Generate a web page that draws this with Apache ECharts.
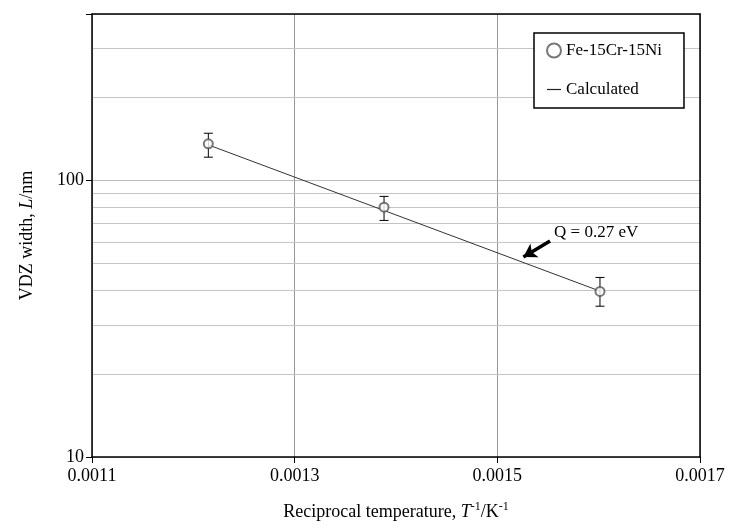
<!DOCTYPE html>
<html>
<head>
<meta charset="utf-8">
<script src="https://cdn.jsdelivr.net/npm/echarts@6/dist/echarts.min.js"></script>
<style>
  html, body { margin: 0; padding: 0; background: #fff; }
  #chart { width: 731px; height: 529px; }
</style>
</head>
<body>
<div id="chart"></div>
<script>
// measured points (reciprocal temperature vs VDZ width)
const invTemp = [0.0012148, 0.0013882, 0.0016013];
const vdzWidth = [135.7, 80.1, 39.7];
const errLow = [121.4, 71.7, 35.1];
const errHigh = [148.2, 87.6, 44.6];

// calculated line (Q = 0.27 eV)
const calcX = [0.0012148, 0.0016013];
const calcY = [134.5, 39.8];

// extra horizontal grid lines on the log axis
const minorGrid = [20, 30, 40, 50, 60, 70, 80, 90, 200, 300];
const yLabels = [10, 100];

const serif = '"Liberation Serif", "Times New Roman", serif';
const chart = echarts.init(document.getElementById("chart"));

const points = invTemp.map((x, i) => [x, vdzWidth[i]]);
const errors = invTemp.map((x, i) => [x, errLow[i], errHigh[i]]);
const calcLine = calcX.map((x, i) => [x, calcY[i]]);

function renderErrorBar(params, api) {
  const x = api.value(0);
  const top = api.coord([x, api.value(2)]);
  const bot = api.coord([x, api.value(1)]);
  const w = 4.5;
  const style = { stroke: "#000", lineWidth: 1 };
  return {
    type: "group",
    children: [
      { type: "line", shape: { x1: top[0], y1: top[1], x2: bot[0], y2: bot[1] }, style: style },
      { type: "line", shape: { x1: top[0] - w, y1: top[1], x2: top[0] + w, y2: top[1] }, style: style },
      { type: "line", shape: { x1: bot[0] - w, y1: bot[1], x2: bot[0] + w, y2: bot[1] }, style: style },
    ],
  };
}

const option = {
  animation: false,
  backgroundColor: "#fff",
  grid: { left: 92, right: 31, top: 14, bottom: 72 },
  legend: {
    z: 20,
    data: [
      { name: "Fe-15Cr-15Ni", icon: "emptyCircle" },
      { name: "Calculated", icon: "path://M0,0L14,0L14,1.2L0,1.2Z", itemStyle: { color: "#222" } },
    ],
    orient: "vertical",
    left: 534,
    top: 33,
    itemWidth: 14,
    itemHeight: 14,
    itemGap: 22,
    padding: [9, 22, 10, 12],
    borderColor: "#000",
    borderWidth: 1.5,
    backgroundColor: "#fff",
    textStyle: { fontFamily: serif, fontSize: 17, color: "#000" },
  },
  xAxis: [
    {
      type: "value",
      min: 0.0011,
      max: 0.0017,
      interval: 0.0002,
      name: "{n|Reciprocal temperature, }{i|T}{s|-1}{n|/K}{s|-1}",
      nameLocation: "middle",
      nameGap: 44,
      nameTextStyle: {
        rich: {
          n: { fontFamily: serif, fontSize: 18, color: "#000", lineHeight: 22 },
          i: { fontFamily: serif, fontSize: 18, fontStyle: "italic", color: "#000", lineHeight: 22 },
          s: { fontFamily: serif, fontSize: 12, color: "#000", lineHeight: 22, verticalAlign: "top" },
        },
      },
      axisLine: { lineStyle: { color: "#000", width: 1.5 } },
      axisTick: { show: true, length: 6, lineStyle: { color: "#000" } },
      axisLabel: {
        formatter: (v) => v.toFixed(4),
        fontFamily: serif,
        fontSize: 18,
        color: "#000",
        margin: 10,
      },
      splitLine: { show: true, lineStyle: { color: "#999", width: 1 } },
    },
    {
      type: "value",
      position: "top",
      min: 0.0011,
      max: 0.0017,
      axisLine: { show: true, onZero: false, lineStyle: { color: "#000", width: 1.5 } },
      axisTick: { show: false },
      axisLabel: { show: false },
      splitLine: { show: false },
    },
  ],
  yAxis: [
    {
      type: "log",
      logBase: 10,
      min: 10,
      max: 400,
      name: "{n|VDZ width, }{i|L}{n|/nm}",
      nameLocation: "middle",
      nameGap: 56,
      nameTextStyle: {
        rich: {
          n: { fontFamily: serif, fontSize: 18, color: "#000" },
          i: { fontFamily: serif, fontSize: 18, fontStyle: "italic", color: "#000" },
        },
      },
      axisLine: { show: true, lineStyle: { color: "#000", width: 1.5 } },
      axisTick: { show: true, length: 6, lineStyle: { color: "#000" } },
      axisLabel: {
        formatter: (v) => (yLabels.includes(Math.round(v)) ? String(Math.round(v)) : ""),
        fontFamily: serif,
        fontSize: 18,
        color: "#000",
        margin: 8,
      },
      splitLine: { show: true, lineStyle: { color: "#bbb", width: 1 } },
    },
    {
      type: "log",
      logBase: 10,
      min: 10,
      max: 400,
      position: "right",
      axisLine: { show: true, onZero: false, lineStyle: { color: "#000", width: 1.5 } },
      axisTick: { show: false },
      axisLabel: { show: false },
      splitLine: { show: false },
    },
  ],
  series: [
    {
      name: "grid",
      type: "line",
      data: [],
      z: 0,
      silent: true,
      markLine: {
        silent: true,
        z: 0,
        symbol: ["none", "none"],
        label: { show: false },
        lineStyle: { color: "#c4c4c4", width: 1, type: "solid" },
        emphasis: { disabled: true },
        data: minorGrid.map((v) => ({ yAxis: v })),
      },
    },
    {
      name: "Calculated",
      type: "line",
      data: calcLine,
      symbol: "none",
      lineStyle: { color: "#333", width: 1 },
      itemStyle: { color: "#333" },
      z: 3,
      markLine: {
        silent: true,
        symbol: ["none", "arrow"],
        symbolSize: [12, 13],
        label: { show: false },
        lineStyle: { color: "#000", width: 3.5, type: "solid" },
        emphasis: { disabled: true },
        data: [[{ coord: [0.001552, 60.4] }, { coord: [0.0015257, 52.9] }]],
      },
      markPoint: {
        silent: true,
        symbol: "circle",
        symbolSize: 0,
        label: {
          show: true,
          position: "right",
          distance: 2,
          formatter: "Q = 0.27 eV",
          fontFamily: serif,
          fontSize: 17,
          color: "#000",
        },
        data: [{ coord: [0.001554, 65] }],
      },
    },
    {
      name: "errors",
      type: "custom",
      data: errors,
      renderItem: renderErrorBar,
      z: 4,
      silent: true,
    },
    {
      name: "Fe-15Cr-15Ni",
      type: "scatter",
      data: points,
      symbol: "emptyCircle",
      symbolSize: 9,
      itemStyle: { color: "#555", borderWidth: 1 },
      z: 5,
    },
  ],
};

chart.setOption(option);
</script>
</body>
</html>
